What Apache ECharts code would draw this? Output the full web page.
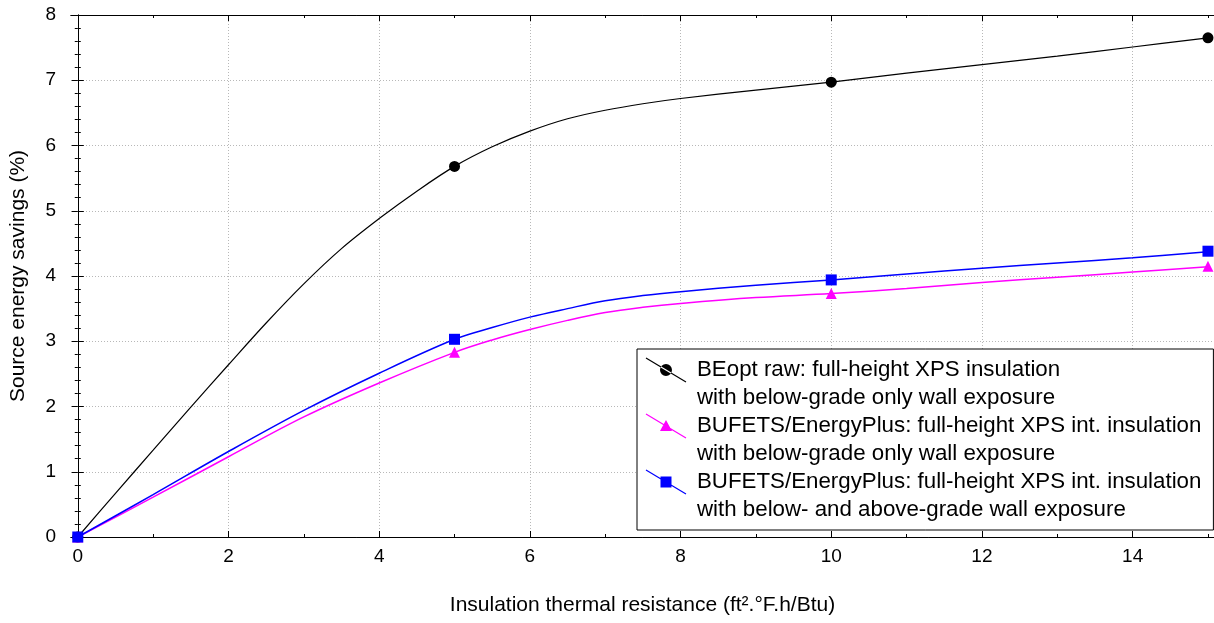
<!DOCTYPE html>
<html>
<head>
<meta charset="utf-8">
<script src="https://cdn.jsdelivr.net/npm/echarts@6/dist/echarts.min.js"></script>
<style>html,body{margin:0;padding:0;background:#fff}#c{width:1214px;height:623px}</style>
</head>
<body>
<div id="c"></div>
<script>
// ---- data ----
const seriesNames = [
  'BEopt raw: full-height XPS insulation\nwith below-grade only wall exposure',
  'BUFETS/EnergyPlus: full-height XPS int. insulation\nwith below-grade only wall exposure',
  'BUFETS/EnergyPlus: full-height XPS int. insulation\nwith below- and above-grade wall exposure'
];
// simulated points (markers)
const markerX = [0, 5, 10, 15];
const beoptPts = [0, 5.68, 6.97, 7.65];
const bufetsBelowPts = [0, 2.83, 3.73, 4.15];
const bufetsAbovePts = [0, 3.03, 3.94, 4.38];
// drawn fitted curves
const beoptCurveX = [0, 0.5, 1, 1.5, 2, 2.5, 3, 3.5, 4, 4.5, 5, 5.5, 6, 6.5, 7, 7.5, 8, 9, 10, 11, 12, 13, 14, 15];
const beoptCurveY = [0, 0.67, 1.33, 1.99, 2.64, 3.28, 3.88, 4.42, 4.88, 5.30, 5.68, 5.98, 6.22, 6.41, 6.54, 6.64, 6.72, 6.85, 6.97, 7.11, 7.24, 7.37, 7.51, 7.65];
const bufetsCurveX = [0, 1, 2, 3, 4, 5, 5.5, 6, 6.5, 7, 7.5, 8, 9, 10, 11, 12, 13, 14, 15];
const bufetsBelowCurveY = [0, 0.61, 1.23, 1.84, 2.36, 2.83, 3.02, 3.18, 3.32, 3.44, 3.52, 3.58, 3.67, 3.73, 3.81, 3.90, 3.98, 4.06, 4.14];
const bufetsAboveCurveY = [0, 0.65, 1.31, 1.94, 2.51, 3.03, 3.21, 3.37, 3.50, 3.62, 3.70, 3.76, 3.86, 3.94, 4.03, 4.12, 4.20, 4.28, 4.37];
const xMajorTicks = [0, 2, 4, 6, 8, 10, 12, 14];
const xMinorTicks = [1, 3, 5, 7, 9, 11, 13, 15];
const xTitle = 'Insulation thermal resistance (ft\u00B2.\u00B0F.h/Btu)';
const yTitle = 'Source energy savings (%)';

const FONT = 'Liberation Sans';
const zip = (xs, ys) => xs.map((x, i) => [x, ys[i]]);

const XMIN = -0.09, XMAX = 15.08;
const gridDash = { color: '#b8b8b8', type: [1, 2], width: 1 };
function xAx(pos, ticks, len, opts) {
  return Object.assign({
    type: 'value', position: pos, min: XMIN, max: XMAX, gridIndex: 0,
    axisLine: { show: true, lineStyle: { color: '#000', width: 1 } },
    axisTick: { show: true, inside: true, length: len, customValues: ticks, lineStyle: { color: '#000' } },
    axisLabel: { show: false },
    splitLine: { show: false }
  }, opts || {});
}

const lineIcon = 'M0,0h0.01v0.01h-0.01Z M47,56h0.01v0.01h-0.01Z M1.31,1.49 L41.31,25.49 L40.69,26.51 L0.69,2.51Z ';
const icons = [
  'path://' + lineIcon + 'M15,14 A6,6 0 1,0 27,14 A6,6 0 1,0 15,14Z',
  'path://' + lineIcon + 'M21,8 L27,19 L15,19Z',
  'path://' + lineIcon + 'M15.5,8.5h11v11h-11Z'
];
const colors = ['#000000', '#ff00ff', '#0000ff'];

const chart = echarts.init(document.getElementById('c'), null, { renderer: 'canvas' });
const curve = (i, xs, ys, w) => ({
  name: seriesNames[i], type: 'line', smooth: 0.35, symbol: 'none',
  data: zip(xs, ys), lineStyle: { color: colors[i], width: w }, itemStyle: { color: colors[i] }, z: 3
});
const marks = (i, sym, ys, z) => ({
  name: seriesNames[i], type: 'scatter', symbol: sym, symbolSize: 11, data: zip(markerX, ys),
  itemStyle: { color: colors[i], opacity: 1 }, z: z
});
chart.setOption({
  animation: false,
  backgroundColor: '#fff',
  textStyle: { fontFamily: FONT },
  grid: { left: 71, top: 15, right: -2, bottom: 86, containLabel: false },
  legend: {
    left: 637, top: 349, orient: 'vertical',
    backgroundColor: '#fff', borderColor: '#000', borderWidth: 1,
    padding: [7, 12, 6, 8], itemGap: 0, itemWidth: 47, itemHeight: 56,
    textStyle: { fontFamily: FONT, fontSize: 22.3, lineHeight: 28, color: '#000' },
    selectedMode: false,
    data: seriesNames.map((n, i) => ({ name: n, icon: icons[i], itemStyle: { color: colors[i], borderWidth: 0 } }))
  },
  xAxis: [
    xAx('bottom', xMajorTicks, 6, {
      axisLabel: { show: true, customValues: xMajorTicks, fontFamily: FONT, fontSize: 19, color: '#000', margin: 10 },
      splitLine: { show: true, lineStyle: gridDash },
      name: xTitle, nameLocation: 'middle', nameGap: 58,
      nameTextStyle: { fontFamily: FONT, fontSize: 21, color: '#000' }
    }),
    xAx('bottom', xMinorTicks, 3),
    xAx('top', xMajorTicks, 6),
    xAx('top', xMinorTicks, 3)
  ],
  yAxis: [
    {
      type: 'value', position: 'left', min: 0, max: 8, interval: 1,
      axisLine: { show: true, lineStyle: { color: '#000' } },
      axisTick: { show: true, inside: true, length: 6, lineStyle: { color: '#000' } },
      minorTick: { show: true, splitNumber: 5, length: 3, lineStyle: { color: '#000' } },
      axisLabel: { fontFamily: FONT, fontSize: 19, color: '#000', margin: 15 },
      splitLine: { show: true, lineStyle: gridDash },
      name: yTitle, nameLocation: 'middle', nameGap: 42, nameRotate: 90,
      nameTextStyle: { fontFamily: FONT, fontSize: 21, color: '#000' }
    },
    {
      type: 'value', position: 'right', min: 0, max: 8, interval: 1,
      axisLine: { show: true, lineStyle: { color: '#000' } },
      axisTick: { show: true, inside: true, length: 6, lineStyle: { color: '#000' } },
      minorTick: { show: true, splitNumber: 5, length: 3, lineStyle: { color: '#000' } },
      axisLabel: { show: false },
      splitLine: { show: false }
    }
  ],
  series: [
    curve(0, beoptCurveX, beoptCurveY, 1.2),
    curve(1, bufetsCurveX, bufetsBelowCurveY, 1.5),
    curve(2, bufetsCurveX, bufetsAboveCurveY, 1.5),
    marks(0, 'circle', beoptPts, 4),
    marks(1, 'triangle', bufetsBelowPts, 4),
    marks(2, 'rect', bufetsAbovePts, 5)
  ]
});
</script>
</body>
</html>
